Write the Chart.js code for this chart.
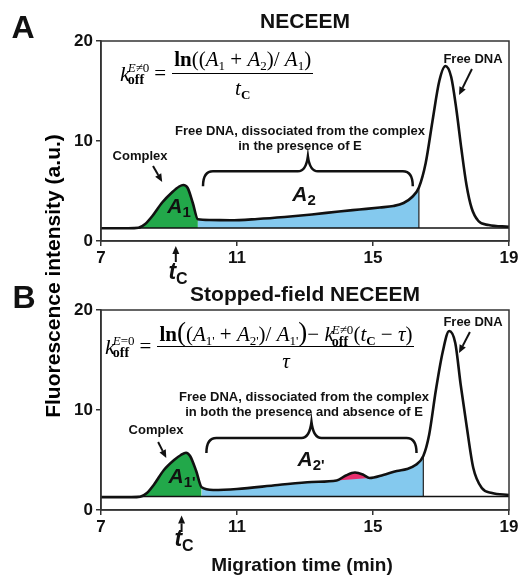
<!DOCTYPE html>
<html>
<head>
<meta charset="utf-8">
<script src="https://cdn.jsdelivr.net/npm/chart.js@4.4.1/dist/chart.umd.min.js"></script>
<style>
  body { margin: 0; background: #fff; }
  #wrap { position: relative; width: 518px; height: 575px; overflow: hidden; font-family: "Liberation Sans", Arial, sans-serif; }
  canvas { position: absolute; left: 0; }
  .lbl { position: absolute; transform: translate(-50%, -50%); font-weight: bold; font-size: 13px; line-height: 15px; text-align: center; white-space: nowrap; color: #111; }
  .big { font-size: 21px; }
  .panel { font-size: 32px; line-height: 32px; }
  .area { font-size: 21px; font-style: italic; }
  .area sub { font-size: 15px; font-style: normal; vertical-align: -4px; }
  .tc { font-size: 23px; font-style: italic; }
  .tc sub { font-size: 16px; font-style: normal; vertical-align: -5px; }
  .ytitle { position: absolute; left: 53px; top: 276px; transform: translate(-50%, -50%) rotate(-90deg); font-weight: bold; font-size: 21px; white-space: nowrap; }
  .eq { position: absolute; font-family: "Liberation Serif", "Times New Roman", serif; font-size: 21px; display: flex; align-items: center; white-space: nowrap; }
  .kv { display: inline-flex; align-items: center; }
  .kv i.k { font-size: 22px; }
  .ss { display: inline-flex; flex-direction: column; font-size: 13px; line-height: 12px; margin-left: -2px; }
  .ss b { font-size: 14px; }
  .eqs { margin: 0 6px 0 5px; }
  .frac { display: inline-flex; flex-direction: column; align-items: center; }
  .num { border-bottom: 1.6px solid #000; padding: 0 2px 1px; height: 25px; line-height: 25px; }
  .den { height: 26px; line-height: 28px; }
  .eq sub { font-size: 13px; vertical-align: -4px; }
  .paren { font-size: 27px; }
</style>
</head>
<body>
<div id="wrap">
  <canvas id="chartA" width="518" height="280" style="top:0"></canvas>
  <canvas id="chartB" width="518" height="290" style="top:285px"></canvas>

  <div class="lbl panel" style="left:23px; top:27px">A</div>
  <div class="lbl panel" style="left:24px; top:297px">B</div>
  <div class="lbl big" style="left:305px; top:20px">NECEEM</div>
  <div class="lbl big" style="left:305px; top:293px">Stopped-field NECEEM</div>
  <div class="ytitle">Fluorescence intensity (a.u.)</div>
  <div class="lbl" style="left:302px; top:564px; font-size:19px">Migration time (min)</div>

  <!-- panel A labels -->
  <div class="lbl" style="left:140px; top:155px">Complex</div>
  <div class="lbl" style="left:473px; top:58px">Free DNA</div>
  <div class="lbl" style="left:300px; top:138px">Free DNA, dissociated from the complex<br>in the presence of E</div>
  <div class="lbl area" style="left:179px; top:208px">A<sub>1</sub></div>
  <div class="lbl area" style="left:304px; top:196px">A<sub>2</sub></div>
  <div class="lbl tc" style="left:178px; top:275px">t<sub>C</sub></div>

  <!-- panel B labels -->
  <div class="lbl" style="left:156px; top:429px">Complex</div>
  <div class="lbl" style="left:473px; top:321px">Free DNA</div>
  <div class="lbl" style="left:304px; top:404px">Free DNA, dissociated from the complex<br>in both the presence and absence of E</div>
  <div class="lbl area" style="left:182px; top:478px">A<sub>1'</sub></div>
  <div class="lbl area" style="left:311px; top:461px">A<sub>2'</sub></div>
  <div class="lbl tc" style="left:184px; top:542px">t<sub>C</sub></div>

  <div class="eq" style="left:120px; top:47px">
    <span class="kv"><i class="k">k</i><span class="ss"><span><i>E</i>≠0</span><b>off</b></span></span>
    <span class="eqs">=</span>
    <span class="frac">
      <span class="num"><b>ln</b>((<i>A</i><sub>1</sub> + <i>A</i><sub>2</sub>)/ <i>A</i><sub>1</sub>)</span>
      <span class="den"><i>t</i><sub><b>C</b></sub></span>
    </span>
  </div>

  <div class="eq" style="left:105px; top:320px">
    <span class="kv"><i class="k">k</i><span class="ss"><span><i>E</i>=0</span><b>off</b></span></span>
    <span class="eqs">=</span>
    <span class="frac">
      <span class="num"><b>ln</b><span class="paren">(</span>(<i>A</i><sub>1'</sub> + <i>A</i><sub>2'</sub>)/ <i>A</i><sub>1'</sub><span class="paren">)</span>− <i>k</i><span class="ss" style="display:inline-flex;vertical-align:middle"><span><i>E</i>≠0</span><b>off</b></span>(<i>t</i><sub><b>C</b></sub> − <i>τ</i>)</span>
      <span class="den"><i>τ</i></span>
    </span>
  </div>
</div>

<script>
// panel A: NECEEM trace
const timeA = [7, 7.8, 8.1, 8.3, 8.5, 8.8, 9.1, 9.3, 9.42, 9.55, 9.7, 9.85, 10.2, 10.8, 11.6, 12.4, 13.2, 14.0, 14.6, 15.2, 15.6, 15.9, 16.15, 16.35, 16.55, 16.75, 16.95, 17.13, 17.3, 17.45, 17.6, 17.75, 17.9, 18.1, 18.4, 19];
const signalA = [1.27, 1.27, 1.32, 1.7, 2.45, 3.85, 4.9, 5.45, 5.6, 5.3, 3.8, 2.17, 2.1, 2.07, 2.2, 2.4, 2.65, 2.95, 3.15, 3.35, 3.5, 3.8, 4.4, 5.35, 7.8, 12.0, 16.0, 17.5, 16.4, 13.2, 9.2, 5.6, 3.3, 2.0, 1.6, 1.43];

// panel B: stopped-field NECEEM trace
const timeB = [7, 7.9, 8.15, 8.35, 8.55, 8.85, 9.15, 9.35, 9.5, 9.62, 9.8, 9.96, 10.3, 11.0, 12.2, 13.2, 13.93, 14.2, 14.47, 14.7, 14.9, 15.3, 15.7, 16.0, 16.25, 16.48, 16.65, 16.85, 17.05, 17.24, 17.42, 17.58, 17.75, 17.95, 18.2, 18.5, 19];
const signalB = [1.27, 1.27, 1.32, 1.7, 2.5, 4.0, 5.0, 5.5, 5.73, 5.4, 3.9, 2.27, 2.0, 2.1, 2.5, 2.8, 2.95, 3.45, 3.75, 3.55, 3.2, 3.5, 3.9, 4.1, 4.5, 5.4, 7.5, 12.0, 15.8, 17.9, 16.7, 12.5, 8.5, 4.2, 2.2, 1.7, 1.5];

const xTicks = [7, 11, 15, 19];
const yTicks = [0, 10, 20];

const baselineA = 1.3;
const baselineB = 1.35;
const a1RangeA = [8.1, 9.85];
const a2RangeA = [9.85, 16.35];
const a1RangeB = [8.15, 9.96];
const a2RangeB = [9.96, 16.48];
const pinkTime = [13.93, 14.9];
const pinkFloor = [2.95, 3.2];

const GREEN = '#22a84a';
const BLUE = '#84c9ee';
const PINK = '#e8306e';
const INK = '#111';

function toPoints(t, y) {
    return t.map((v, i) => ({x: v, y: y[i]}));
}
function inRange(pts, r) {
    return pts.filter(p => p.x >= r[0] && p.x <= r[1]);
}

// arrows, braces and the frame, all given in data units
function decoPlugin(deco) {
    return {
        id: 'deco',
        afterDraw(chart) {
            const ctx = chart.ctx, xs = chart.scales.x, ys = chart.scales.y, a = chart.chartArea;
            const px = v => xs.getPixelForValue(v), py = v => ys.getPixelForValue(v);
            ctx.save();
            ctx.strokeStyle = '#333';
            ctx.lineWidth = 1.5;
            ctx.strokeRect(a.left, a.top, a.right - a.left, a.bottom - a.top);

            ctx.strokeStyle = INK;
            ctx.fillStyle = INK;
            deco.arrows.forEach(ar => {
                const x0 = px(ar[0]), y0 = py(ar[1]), x1 = px(ar[2]), y1 = py(ar[3]);
                const ang = Math.atan2(y1 - y0, x1 - x0);
                const hl = 8, hw = 3.5;
                const bx = x1 - hl * Math.cos(ang), by = y1 - hl * Math.sin(ang);
                ctx.lineWidth = 2;
                ctx.beginPath();
                ctx.moveTo(x0, y0);
                ctx.lineTo(bx, by);
                ctx.stroke();
                ctx.beginPath();
                ctx.moveTo(x1, y1);
                ctx.lineTo(bx + hw * Math.sin(ang), by - hw * Math.cos(ang));
                ctx.lineTo(bx - hw * Math.sin(ang), by + hw * Math.cos(ang));
                ctx.closePath();
                ctx.fill();
            });

            const br = deco.brace;
            const l = px(br[0]), r = px(br[1]), m = (l + r) / 2;
            const yt = py(br[2]), ye = py(br[3]), yc = py(br[4]);
            const rr = 10;
            ctx.lineWidth = 2.5;
            ctx.beginPath();
            ctx.moveTo(l, ye);
            ctx.quadraticCurveTo(l, yt, l + rr, yt);
            ctx.lineTo(m - rr, yt);
            ctx.quadraticCurveTo(m - 2, yt, m, yc);
            ctx.quadraticCurveTo(m + 2, yt, m + rr, yt);
            ctx.lineTo(r - rr, yt);
            ctx.quadraticCurveTo(r, yt, r, ye);
            ctx.stroke();
            ctx.restore();
        }
    };
}

function makePanel(id, t, y, base, r1, r2, pad, axisH, deco, pink) {
    const curve = toPoints(t, y);
    const a2 = inRange(curve, r2);
    const last = a2[a2.length - 1];
    const datasets = [
        {data: curve, borderColor: INK, borderWidth: 2.6, order: 0},
        {data: [{x: 7, y: base}, {x: 19, y: base}], borderColor: INK, borderWidth: 1.5, order: 1},
        {data: [{x: last.x, y: base}, {x: last.x, y: last.y}], borderColor: '#222', borderWidth: 1.2, order: 1},
        {data: inRange(curve, r1), borderWidth: 0, borderColor: 'transparent', backgroundColor: GREEN, fill: {value: base}, order: 5},
        {data: a2, borderWidth: 0, borderColor: 'transparent', backgroundColor: BLUE, fill: {value: base}, order: 5}
    ];
    if (pink) {
        datasets.push({data: inRange(curve, pink.time), borderWidth: 0, borderColor: 'transparent', backgroundColor: PINK, fill: datasets.length + 1, order: 3});
        datasets.push({data: [{x: pink.time[0], y: pink.floor[0]}, {x: pink.time[1], y: pink.floor[1]}], borderWidth: 0, borderColor: 'transparent', order: 4});
    }
    const tickFont = {family: 'Liberation Sans', weight: 'bold', size: 17};
    return new Chart(document.getElementById(id), {
        type: 'line',
        data: {datasets: datasets},
        plugins: [decoPlugin(deco)],
        options: {
            responsive: false,
            animation: false,
            devicePixelRatio: 1,
            layout: {padding: {top: pad, right: 9, left: 0, bottom: 0}},
            elements: {
                point: {radius: 0},
                line: {cubicInterpolationMode: 'monotone'}
            },
            plugins: {legend: {display: false}, tooltip: {enabled: false}},
            scales: {
                x: {
                    type: 'linear', min: 7, max: 19,
                    afterBuildTicks: s => { s.ticks = xTicks.map(v => ({value: v})); },
                    afterFit: s => { s.height = axisH; s.paddingLeft = 0; s.paddingRight = 0; },
                    grid: {drawOnChartArea: false, drawTicks: true, tickLength: 5, color: '#333', lineWidth: 1.5},
                    border: {color: '#333', width: 1.5},
                    ticks: {font: tickFont, color: INK, padding: 2, maxRotation: 0}
                },
                y: {
                    min: 0, max: 20,
                    afterBuildTicks: s => { s.ticks = yTicks.map(v => ({value: v})); },
                    afterFit: s => { s.width = 101; s.paddingTop = 0; s.paddingBottom = 0; },
                    grid: {drawOnChartArea: false, drawTicks: true, tickLength: 5, color: '#333', lineWidth: 1.5},
                    border: {color: '#333', width: 1.5},
                    ticks: {font: tickFont, color: INK, padding: 3}
                }
            }
        }
    });
}

makePanel('chartA', timeA, signalA, baselineA, a1RangeA, a2RangeA, 41, 39, {
    arrows: [[8.53, 7.5, 8.8, 5.9], [17.91, 17.2, 17.53, 14.6], [9.2, -2.1, 9.2, -0.5]],
    brace: [10.0, 16.17, 6.97, 5.47, 8.47]
}, null);

makePanel('chartB', timeB, signalB, baselineB, a1RangeB, a2RangeB, 25, 65, {
    arrows: [[8.68, 6.8, 8.92, 5.2], [17.85, 17.8, 17.53, 15.7], [9.37, -2.2, 9.37, -0.55]],
    brace: [10.1, 16.28, 7.2, 5.7, 8.8]
}, {time: pinkTime, floor: pinkFloor});
</script>
</body>
</html>
